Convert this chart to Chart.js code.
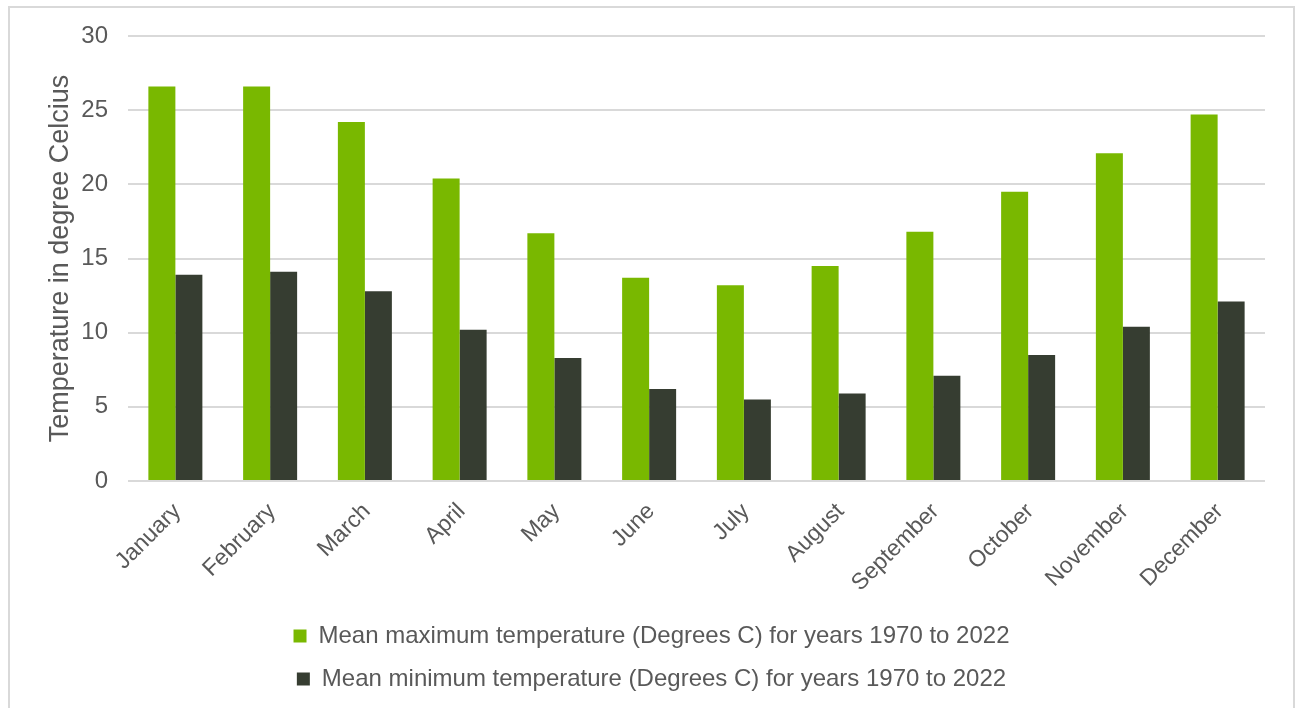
<!DOCTYPE html>
<html>
<head>
<meta charset="utf-8">
<script src="https://cdn.jsdelivr.net/npm/chart.js@4/dist/chart.umd.min.js"></script>
<style>
  html, body { margin: 0; padding: 0; background: #ffffff; overflow: hidden; }
  #wrap { position: relative; width: 1302px; height: 708px; }
  #frame { position: absolute; left: 8px; top: 6px; width: 1287px; height: 730px;
           box-sizing: border-box; border: 2px solid #d9d9d9; }
  #chart { position: absolute; left: 0; top: 0; }
</style>
</head>
<body>
<div id="wrap">
  <div id="frame"></div>
  <canvas id="chart" width="1302" height="708"></canvas>
</div>
<script>
// Monthly means, degrees Celsius, 1970–2022
const months = ['January', 'February', 'March', 'April', 'May', 'June',
                'July', 'August', 'September', 'October', 'November', 'December'];
const meanMax = [26.6, 26.6, 24.2, 20.4, 16.7, 13.7, 13.2, 14.5, 16.8, 19.5, 22.1, 24.7];
const meanMin = [13.9, 14.1, 12.8, 10.2, 8.3, 6.2, 5.5, 5.9, 7.1, 8.5, 10.4, 12.1];
const seriesNames = ['Mean maximum temperature (Degrees C) for years 1970 to 2022',
                     'Mean minimum temperature (Degrees C) for years 1970 to 2022'];
const yTitle = 'Temperature in degree Celcius';

const FONT = '"Liberation Sans", Arial, sans-serif';
const TEXT = '#595959';

new Chart(document.getElementById('chart'), {
  type: 'bar',
  data: {
    labels: months,
    datasets: [
      { label: seriesNames[0], data: meanMax, backgroundColor: '#79b800', borderWidth: 0,
        categoryPercentage: 0.57, barPercentage: 1.0 },
      { label: seriesNames[1], data: meanMin, backgroundColor: '#363d31', borderWidth: 0,
        categoryPercentage: 0.57, barPercentage: 1.0 }
    ]
  },
  options: {
    responsive: false,
    animation: false,
    devicePixelRatio: 1,
    layout: { padding: { left: 38, top: 36, right: 37, bottom: 7 } },
    plugins: {
      tooltip: { enabled: false },
      legend: {
        position: 'bottom',
        labels: {
          boxWidth: 13, boxHeight: 13, padding: 19,
          color: TEXT, font: { family: FONT, size: 24 }
        }
      }
    },
    scales: {
      x: {
        grid: { display: false, drawTicks: false },
        border: { display: false },
        ticks: {
          color: TEXT, font: { family: FONT, size: 23 },
          minRotation: 45, maxRotation: 45, autoSkip: false,
          padding: 17, labelOffset: 2
        },
        afterFit: (s) => { s.height = 124; }
      },
      y: {
        min: 0, max: 30,
        grid: { color: '#d9d9d9', lineWidth: 2, drawTicks: false },
        border: { display: false },
        ticks: { stepSize: 5, color: TEXT, font: { family: FONT, size: 24 }, padding: 20 },
        title: {
          display: true, text: yTitle, color: TEXT,
          font: { family: FONT, size: 27, lineHeight: 1 },
          padding: { top: 9.5, bottom: 0 }
        },
        afterFit: (s) => { s.width = 90; }
      }
    }
  }
});
</script>
</body>
</html>
